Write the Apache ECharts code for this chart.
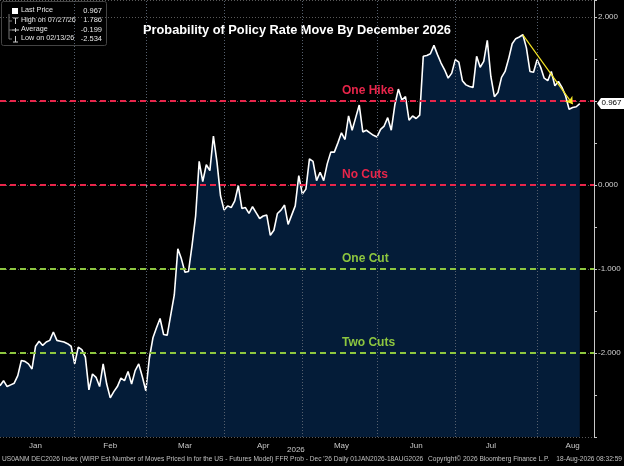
<!DOCTYPE html>
<html>
<head>
<meta charset="utf-8">
<script src="https://cdn.jsdelivr.net/npm/echarts@6/dist/echarts.min.js"></script>
<style>
  html, body { margin: 0; padding: 0; background: #000; }
  #chart { width: 624px; height: 466px; }
</style>
</head>
<body>
<div id="chart"></div>
<script>
// WIRP est. number of moves, Dec 2026 meeting (daily, 01JAN2026 - 18AUG2026)
const rateMoves = [
  -2.39, -2.33, -2.40, -2.38, -2.36, -2.27, -2.09, -2.10, -2.13, -2.19,
  -1.92, -1.86, -1.91, -1.87, -1.85, -1.75, -1.85, -1.86, -1.87, -1.89,
  -1.92, -2.13, -1.93, -1.96, -2.05, -2.44, -2.25, -2.29, -2.40, -2.13,
  -2.37, -2.534, -2.46, -2.40, -2.30, -2.33, -2.22, -2.37, -2.21, -2.13,
  -2.28, -2.45, -2.06, -1.82, -1.70, -1.59, -1.78, -1.79, -1.55, -1.31,
  -0.76, -0.88, -1.04, -1.03, -0.72, -0.37, 0.28, 0.04, 0.24, 0.17,
  0.58, 0.27, -0.13, -0.30, -0.25, -0.27, -0.19, -0.01, -0.28, -0.27,
  -0.34, -0.26, -0.33, -0.40, -0.37, -0.36, -0.60, -0.54, -0.34, -0.30,
  -0.24, -0.47, -0.36, -0.25, 0.11, -0.11, -0.05, 0.31, 0.28, 0.05,
  0.15, 0.05, 0.25, 0.39, 0.39, 0.50, 0.62, 0.54, 0.82, 0.65,
  0.80, 0.95, 0.63, 0.65, 0.62, 0.59, 0.57, 0.66, 0.70, 0.80,
  0.65, 0.95, 1.14, 1.01, 1.05, 0.77, 0.82, 0.79, 0.83, 1.53,
  1.54, 1.56, 1.66, 1.55, 1.45, 1.37, 1.27, 1.33, 1.49, 1.46,
  1.24, 1.19, 1.17, 1.16, 1.53, 1.40, 1.47, 1.72, 1.29, 1.05,
  1.10, 1.28, 1.35, 1.50, 1.68, 1.74, 1.76, 1.786, 1.63, 1.35,
  1.34, 1.49, 1.40, 1.27, 1.24, 1.35, 1.18, 1.23, 1.16, 1.06,
  0.90, 0.92, 0.93, 0.967
];

// reference lines: level, label, colour
const levelValues = [1, 0, -1, -2];
const levelNames = ['One Hike', 'No Cuts', 'One Cut', 'Two Cuts'];
const levelColors = ['#e8254a', '#e8254a', '#8dc63f', '#8dc63f'];

// axis labels
const monthNames = ['Jan', 'Feb', 'Mar', 'Apr', 'May', 'Jun', 'Jul', 'Aug'];
const monthLabelDates = ['2026-01-15', '2026-02-13', '2026-03-16', '2026-04-15',
  '2026-05-15', '2026-06-15', '2026-07-14', '2026-08-14'];
const yLabelValues = [-2, -1, 0, 2];

// legend box
const legendNames = ['Last Price', 'High on 07/27/26', 'Average', 'Low on 02/13/26'];
const legendValues = ['0.967', '1.786', '-0.199', '-2.534'];

// trend arrow from the high
const trendStart = ['2026-07-27', 1.786];
const trendEnd = ['2026-08-14', 0.96];

const footerText = "US0ANM DEC2026 Index (WIRP Est Number of Moves Priced in for the US - Futures Model) FFR Prob - Dec '26 Daily 01JAN2026-18AUG2026";

// weekday calendar, padded a few days past the last print
function weekdays(from, to) {
  const out = [];
  const d = new Date(from + 'T00:00:00Z');
  const end = new Date(to + 'T00:00:00Z');
  while (d <= end) {
    const w = d.getUTCDay();
    if (w !== 0 && w !== 6) out.push(d.toISOString().slice(0, 10));
    d.setUTCDate(d.getUTCDate() + 1);
  }
  return out;
}
const days = weekdays('2026-01-01', '2026-08-24');

// last trading day of each month -> tick / gridline
const monthEnds = new Set();
days.forEach((d, i) => {
  if (days[i + 1] && days[i + 1].slice(5, 7) !== d.slice(5, 7)) monthEnds.add(i);
});

const FONT = 'Liberation Sans';
const chart = echarts.init(document.getElementById('chart'));

const levelLines = levelValues.map((v, i) => ({
  yAxis: v,
  lineStyle: { color: levelColors[i], type: [6, 4], width: 2 },
  label: {
    show: true,
    formatter: levelNames[i],
    position: 'insideStartTop',
    distance: [342, 4],
    color: levelColors[i],
    fontFamily: FONT,
    fontWeight: 'bold',
    fontSize: 12
  }
}));

const monthLines = [...monthEnds].map(i => ({
  xAxis: days[i],
  lineStyle: { color: '#56606e', type: [1, 2], width: 1 },
  label: { show: false }
}));

const option = {
  backgroundColor: '#000',
  animation: false,
  grid: { left: 0, right: 30, top: 0, bottom: 29 },
  xAxis: {
    type: 'category',
    data: days,
    boundaryGap: false,
    axisLine: { show: false },
    axisTick: {
      show: true,
      length: 3,
      interval: i => monthEnds.has(i),
      lineStyle: { color: '#999' }
    },
    axisLabel: {
      interval: (i, v) => monthLabelDates.includes(v),
      formatter: v => monthNames[monthLabelDates.indexOf(v)] || '',
      color: '#c8c8c8',
      fontFamily: FONT,
      fontSize: 8,
      margin: 5
    },
    splitLine: { show: false }
  },
  yAxis: {
    type: 'value',
    position: 'right',
    min: -3,
    max: 2.2,
    interval: 1,
    axisLine: { show: true, lineStyle: { color: '#c8c8c8', width: 1 } },
    axisTick: { show: true, length: 3, lineStyle: { color: '#c8c8c8' } },
    minorTick: { show: true, splitNumber: 2, length: 3, lineStyle: { color: '#c8c8c8' } },
    axisLabel: {
      formatter: v => (yLabelValues.includes(Math.round(v * 1000) / 1000) ? v.toFixed(3) : ''),
      color: '#d0d0d0',
      fontFamily: FONT,
      fontSize: 8,
      margin: 4
    },
    splitLine: { show: true, lineStyle: { color: '#5a5a5a', type: [1, 2] } }
  },
  series: [{
    type: 'line',
    data: rateMoves,
    showSymbol: false,
    symbol: 'none',
    lineStyle: { color: '#fff', width: 1.6 },
    areaStyle: { color: '#041c38', origin: 'start', opacity: 1 },
    markLine: {
      silent: true,
      animation: false,
      symbol: ['none', 'none'],
      data: [
        ...monthLines,
        ...levelLines,
        [
          { coord: trendStart, symbol: 'none' },
          { coord: trendEnd, symbol: 'arrow', symbolSize: 7 }
        ]
      ],
      lineStyle: { color: '#f5e625', type: 'solid', width: 1.2 },
      label: { show: false }
    }
  }],
  graphic: [
    {
      type: 'text', left: 143, top: 24,
      style: {
        text: 'Probability of Policy Rate Move By December 2026',
        fill: '#fff', font: 'bold 12.8px "Liberation Sans"'
      }
    },
    {
      type: 'text', left: 287, top: 446,
      style: { text: '2026', fill: '#c8c8c8', font: '8px "Liberation Sans"' }
    },
    {
      type: 'text', left: 2, top: 456,
      style: { text: footerText, fill: '#c0c0c0', font: '6.6px "Liberation Sans"' }
    },
    {
      type: 'text', left: 428, top: 456,
      style: { text: 'Copyright\u00a9 2026 Bloomberg Finance L.P.', fill: '#c0c0c0', font: '6.6px "Liberation Sans"' }
    },
    {
      type: 'text', right: 2, top: 456,
      style: { text: '18-Aug-2026 08:32:59', fill: '#c0c0c0', font: '6.6px "Liberation Sans"' }
    }
  ]
};

chart.setOption(option);

// legend box in the top-left corner
const legendEls = [{
  type: 'rect', shape: { x: 1.5, y: 1.5, width: 105, height: 44, r: 2 },
  style: { fill: '#000', stroke: '#444', lineWidth: 1 }
}, {
  type: 'rect', shape: { x: 12, y: 8, width: 6, height: 6 },
  style: { fill: '#fff' }
}, {
  type: 'polyline', shape: { points: [[9, 14], [9, 39], [12, 39]] },
  style: { stroke: '#777', lineWidth: 1, fill: null }
}];
[21, 30].forEach(y => legendEls.push({
  type: 'line', shape: { x1: 9, y1: y, x2: 12, y2: y }, style: { stroke: '#777' }
}));
// small glyphs for high / average / low
legendEls.push(
  { type: 'line', shape: { x1: 13, y1: 18, x2: 18, y2: 18 }, style: { stroke: '#ccc' } },
  { type: 'line', shape: { x1: 15.5, y1: 18, x2: 15.5, y2: 24 }, style: { stroke: '#ccc' } },
  { type: 'line', shape: { x1: 12, y1: 30, x2: 19, y2: 30 }, style: { stroke: '#ccc' } },
  { type: 'line', shape: { x1: 15.5, y1: 28, x2: 15.5, y2: 32 }, style: { stroke: '#ccc' } },
  { type: 'line', shape: { x1: 15.5, y1: 36, x2: 15.5, y2: 42 }, style: { stroke: '#ccc' } },
  { type: 'line', shape: { x1: 13, y1: 42, x2: 18, y2: 42 }, style: { stroke: '#ccc' } }
);
legendNames.forEach((name, i) => {
  legendEls.push({
    type: 'text', x: 21, y: 7 + i * 9.3,
    style: { text: name, fill: '#e6e6e6', font: '7.2px "Liberation Sans"' }
  }, {
    type: 'text', x: 102, y: 7 + i * 9.3,
    style: { text: legendValues[i], fill: '#e6e6e6', font: '7.5px "Liberation Sans"', align: 'right' }
  });
});

// last-price tag on the right axis
const lastIdx = rateMoves.length - 1;
const lastPx = chart.convertToPixel({ seriesIndex: 0 }, [days[lastIdx], rateMoves[lastIdx]]);
const tagX = 597, tagY = lastPx[1];
const tagEls = [{
  type: 'polygon',
  shape: { points: [[tagX, tagY], [tagX + 4, tagY - 5.5], [tagX + 27, tagY - 5.5], [tagX + 27, tagY + 5.5], [tagX + 4, tagY + 5.5]] },
  style: { fill: '#fff' }
}, {
  type: 'text', x: tagX + 4.5, y: tagY - 4.5,
  style: { text: rateMoves[lastIdx].toFixed(3), fill: '#000', font: '8px "Liberation Sans"' }
}];

chart.setOption({ graphic: option.graphic.concat(legendEls, tagEls) });

window.addEventListener('resize', () => chart.resize());
</script>
</body>
</html>
